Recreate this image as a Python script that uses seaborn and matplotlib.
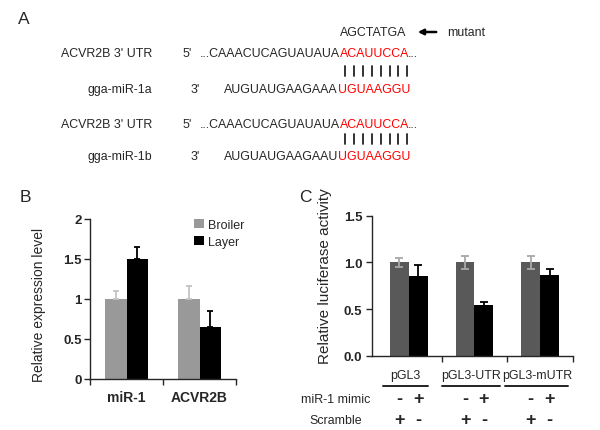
import pandas as pd
import seaborn as sns
import matplotlib.pyplot as plt
from matplotlib.lines import Line2D
from matplotlib.patches import FancyArrowPatch
from matplotlib.transforms import blended_transform_factory

# ---- data ----
b_genes = ["miR-1", "ACVR2B"]
b_breeds = ["Broiler", "Layer"]
b_broiler = [1.0, 1.0]
b_broiler_err = [0.10, 0.16]
b_layer = [1.5, 0.65]
b_layer_err = [0.15, 0.20]
b_yticks = [0, 0.5, 1, 1.5, 2]
b_yticklabels = ["0", "0.5", "1", "1.5", "2"]

c_constructs = ["pGL3", "pGL3-UTR", "pGL3-mUTR"]
c_treatments = ["Scramble", "miR-1 mimic"]
c_scramble = [1.0, 1.0, 1.0]
c_scramble_err = [0.05, 0.07, 0.065]
c_mimic = [0.85, 0.55, 0.87]
c_mimic_err = [0.12, 0.03, 0.055]
c_yticks = [0, 0.5, 1.0, 1.5]
c_yticklabels = ["0.0", "0.5", "1.0", "1.5"]
c_mimic_signs = ["-", "+"]
c_scramble_signs = ["+", "-"]

utr_label = "ACVR2B 3' UTR"
utr_seq = "...CAAACUCAGUAUAUA"
seed_site = "ACAUUCCA"
mutant_seq = "AGCTATGA"
mirs = ["gga-miR-1a", "gga-miR-1b"]
mir_seqs = ["AUGUAUGAAGAAA", "AUGUAUGAAGAAU"]
mir_seed = "UGUAAGGU"

sns.set_style("ticks")
plt.rcParams["font.family"] = ["Liberation Sans", "DejaVu Sans"]
plt.rcParams["axes.linewidth"] = 1.0

W, H = 600, 431
fig = plt.figure(figsize=(6, 4.31), dpi=100)


def fx(x):
    return x / W


def fy(y):
    return 1 - y / H


def ftext(x, y, s, **kw):
    kw.setdefault("va", "center")
    kw.setdefault("fontsize", 8.9)
    fig.text(fx(x), fy(y), s, **kw)


# ---- panel A ----
ftext(18, 19, "A", fontsize=12.5)
ftext(340, 33, mutant_seq)
fig.add_artist(FancyArrowPatch((fx(439), fy(33)), (fx(415), fy(33)),
                               transform=fig.transFigure, arrowstyle="-|>",
                               mutation_scale=8, lw=1.8, color="black"))
ftext(447, 33, "mutant")
for i, (mir, mseq) in enumerate(zip(mirs, mir_seqs)):
    y0 = 54 + i * 71
    ftext(152, y0, utr_label, ha="right")
    ftext(183, y0, "5'")
    ftext(340, y0, utr_seq, ha="right")
    ftext(340, y0, seed_site, ha="left", color="red")
    ftext(408, y0, "...", ha="left")
    for k in range(len(seed_site)):
        xb = 345 + k * 8.9
        fig.add_artist(Line2D([fx(xb), fx(xb)], [fy(67 + i * 68), fy(77 + i * 68)],
                              transform=fig.transFigure, color="#222222", lw=1.3))
    y1 = 90 + i * 67
    ftext(152, y1, mir, ha="right")
    ftext(191, y1, "3'")
    ftext(338, y1, mseq, ha="right")
    ftext(338, y1, mir_seed, ha="left", color="red")

# ---- panel B ----
df_b = pd.DataFrame({
    "gene": b_genes * 2,
    "breed": [b_breeds[0]] * 2 + [b_breeds[1]] * 2,
    "value": b_broiler + b_layer,
})
axb = fig.add_axes([fx(90), fy(380), 146 / W, 160 / H])
sns.barplot(data=df_b, x="gene", y="value", hue="breed", order=b_genes,
            hue_order=b_breeds, palette={"Broiler": "#999999", "Layer": "black"},
            saturation=1, width=0.58, errorbar=None, linewidth=0, ax=axb)
for cont, errs, ec in zip(axb.containers, [b_broiler_err, b_layer_err],
                          ["#c4c4c4", "black"]):
    xs = [p.get_x() + p.get_width() / 2 for p in cont.patches]
    hs = [p.get_height() for p in cont.patches]
    axb.errorbar(xs, hs, yerr=[[0] * len(errs), errs], fmt="none", ecolor=ec,
                 elinewidth=1.3, capsize=2.5, capthick=1.3)
axb.set_xlim(-0.5, 1.5)
axb.set_ylim(0, 2)
axb.set_yticks(b_yticks)
axb.set_yticklabels(b_yticklabels, fontsize=9.5, fontweight="bold")
axb.set_xticks([0, 1])
axb.set_xticklabels(b_genes, fontsize=10, fontweight="bold")
axb.set_xticks([-0.5, 0.5, 1.5], minor=True)
axb.tick_params(axis="x", which="major", length=0, pad=8)
axb.tick_params(axis="x", which="minor", length=4, width=1)
axb.tick_params(axis="y", length=4, width=1, pad=2)
axb.set_xlabel("")
axb.set_ylabel("Relative expression level", fontsize=10)
axb.yaxis.set_label_coords(-0.30, 0.47)
sns.despine(ax=axb)
axb.legend(loc="upper left", bbox_to_anchor=(fx(188), fy(214)),
           bbox_transform=fig.transFigure, frameon=False, fontsize=9,
           handlelength=0.75, handleheight=0.75, handletextpad=0.35,
           labelspacing=0.35, borderpad=0)
ftext(20, 198, "B", fontsize=12.5)

# ---- panel C ----
df_c = pd.DataFrame({
    "construct": c_constructs * 2,
    "treatment": [c_treatments[0]] * 3 + [c_treatments[1]] * 3,
    "value": c_scramble + c_mimic,
})
axc = fig.add_axes([fx(372), fy(357), 201 / W, 140.3 / H])
sns.barplot(data=df_c, x="construct", y="value", hue="treatment",
            order=c_constructs, hue_order=c_treatments,
            palette={"Scramble": "#595959", "miR-1 mimic": "black"},
            saturation=1, width=0.57, errorbar=None, legend=False,
            linewidth=0, ax=axc)
for cont, errs, ec in zip(axc.containers, [c_scramble_err, c_mimic_err],
                          ["#a8a8a8", "black"]):
    xs = [p.get_x() + p.get_width() / 2 for p in cont.patches]
    hs = [p.get_height() for p in cont.patches]
    axc.errorbar(xs, hs, yerr=errs, fmt="none", ecolor=ec,
                 elinewidth=1.3, capsize=3, capthick=1.3)
axc.set_xlim(-0.56, 2.5)
axc.set_ylim(0, 1.5)
axc.set_yticks(c_yticks)
axc.set_yticklabels(c_yticklabels, fontsize=9.5, fontweight="bold")
axc.set_xticks([])
axc.set_xticks([0.5, 1.5, 2.5], minor=True)
axc.tick_params(axis="x", which="minor", length=4, width=1)
axc.tick_params(axis="y", length=4, width=1, pad=3)
axc.set_xlabel("")
axc.set_ylabel("Relative luciferase activity", fontsize=11)
axc.yaxis.set_label_coords(-0.20, 0.58)
sns.despine(ax=axc)

tr = blended_transform_factory(axc.transData, fig.transFigure)
line_half = [0.35, 0.44, 0.48]
for i, name in enumerate(c_constructs):
    axc.text(i - 0.05, fy(376), name, transform=tr, ha="center", va="center",
             fontsize=8.9)
    axc.plot([i - 0.05 - line_half[i], i - 0.05 + line_half[i]], [fy(387)] * 2,
             transform=tr, color="#222222", lw=1.4, clip_on=False)
for cont, ms, ss in zip(axc.containers, c_mimic_signs, c_scramble_signs):
    for p in cont.patches:
        xc = p.get_x() + p.get_width() / 2
        axc.text(xc, fy(400), ms, transform=tr, ha="center", va="center",
                 fontsize=13, fontweight="bold")
        axc.text(xc, fy(421), ss, transform=tr, ha="center", va="center",
                 fontsize=13, fontweight="bold")
ftext(336, 400, "miR-1 mimic", ha="center")
ftext(336, 421, "Scramble", ha="center")
ftext(299, 198, "C", fontsize=12.5)

fig.savefig("out.png", dpi=100)
